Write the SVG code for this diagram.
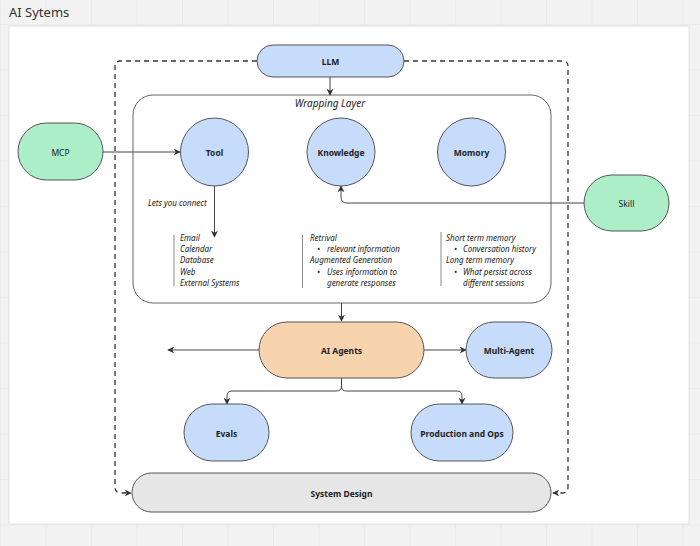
<svg xmlns="http://www.w3.org/2000/svg" width="700" height="546" viewBox="0 0 700 546">
<defs>
<pattern id="grid" x="0" y="24" width="45.5" height="45.5" patternUnits="userSpaceOnUse">
<rect width="45.5" height="45.5" fill="#f2f2f2"/>
<path d="M0,0 H45.5 M0,0 V45.5" stroke="#e4e4e4" stroke-width="1" fill="none"/>
</pattern>
<marker id="arr" viewBox="0 0 10 10" refX="9" refY="5" markerWidth="7" markerHeight="7" orient="auto" markerUnits="userSpaceOnUse">
<path d="M0,0 L10,5 L0,10 L3,5 Z" fill="#333"/>
</marker>
</defs>
<style>
.node{stroke:#555;stroke-width:1}
.blue{fill:#c7dcfb}
.green{fill:#abeec8}
.peach{fill:#f8d4ae}
.grey{fill:#e6e6e6}
.lbl{font-family:"Noto Sans","Open Sans",sans-serif;font-size:8.5px;font-weight:bold;fill:#222;text-anchor:middle;dominant-baseline:central}
.glbl{font-family:"Noto Sans","Open Sans",sans-serif;font-size:8.5px;fill:#222;text-anchor:middle;dominant-baseline:central}
.it{font-family:"Noto Sans","Open Sans",sans-serif;font-size:8px;font-style:italic;fill:#222}
.conn{fill:none;stroke:#444;stroke-width:1}
.dash{fill:none;stroke:#333;stroke-width:1.3;stroke-dasharray:5 4}
.bar{stroke:#888;stroke-width:1}
</style>
<rect width="700" height="546" fill="url(#grid)"/>
<rect x="9" y="26" width="680" height="498" fill="#ffffff" stroke="#e0e0e0"/>
<text x="9" y="17" font-family="'Noto Sans','Open Sans',sans-serif" font-size="13" fill="#333">AI Sytems</text>

<g id="wrapping-layer">
<rect x="133" y="95" width="418" height="208" rx="20" fill="#ffffff" stroke="#666" stroke-width="1"/>
<text x="330" y="107" class="it" font-size="10" text-anchor="middle" style="font-size:10px">Wrapping Layer</text>
</g>

<g id="connectors">
<path class="dash" d="M257,61 H120 Q115,61 115,66 V487 Q115,493 121,493 H131" marker-end="url(#arr)"/>
<path class="dash" d="M404,61 H563 Q568,61 568,66 V487 Q568,493 562,493 H553" marker-end="url(#arr)"/>
<path class="conn" d="M330,77 V95" marker-end="url(#arr)"/>
<path class="conn" d="M103,152 H180" marker-end="url(#arr)"/>
<path class="conn" d="M584,203 H347 Q341,203 341,197 V186" marker-end="url(#arr)"/>
<path class="conn" d="M214.5,186 V237" marker-end="url(#arr)"/>
<path class="conn" d="M341.5,303 V321" marker-end="url(#arr)"/>
<path class="conn" d="M259,350 H168" marker-end="url(#arr)"/>
<path class="conn" d="M424,350 H466" marker-end="url(#arr)"/>
<path class="conn" d="M341.5,378 V386 Q341.5,391 336.5,391 H232 Q227,391 227,396 V404" marker-end="url(#arr)"/>
<path class="conn" d="M341.5,386 Q341.5,391 346.5,391 H457 Q462,391 462,396 V404" marker-end="url(#arr)"/>
</g>

<g id="llm"><rect class="node blue" x="257" y="45" width="147" height="32" rx="16"/><text class="lbl" x="330.5" y="61">LLM</text></g>
<g id="mcp"><rect class="node green" x="18" y="123" width="85" height="57" rx="28.5"/><text class="glbl" x="60.5" y="152">MCP</text></g>
<g id="skill"><rect class="node green" x="584" y="175" width="85" height="56" rx="28"/><text class="glbl" x="626.5" y="203">Skill</text></g>
<g id="tool"><circle class="node blue" cx="214.5" cy="152" r="34"/><text class="lbl" x="214.5" y="152">Tool</text></g>
<g id="knowledge"><circle class="node blue" cx="341" cy="152" r="34"/><text class="lbl" x="341" y="152">Knowledge</text></g>
<g id="memory"><circle class="node blue" cx="471.5" cy="152" r="34"/><text class="lbl" x="471.5" y="152">Momory</text></g>

<g id="tool-notes">
<text class="it" x="148" y="206">Lets you connect</text>
<line class="bar" x1="174" y1="235" x2="174" y2="286"/>
<text class="it" x="180" y="240.5">Email</text>
<text class="it" x="180" y="252">Calendar</text>
<text class="it" x="180" y="263">Database</text>
<text class="it" x="180" y="274.5">Web</text>
<text class="it" x="180" y="285.5">External Systems</text>
</g>
<g id="knowledge-notes">
<line class="bar" x1="302.5" y1="235" x2="302.5" y2="288"/>
<text class="it" x="310" y="240.5">Retrival</text>
<text class="it" x="317" y="252">•</text><text class="it" x="327" y="252">relevant information</text>
<text class="it" x="310" y="263">Augmented Generation</text>
<text class="it" x="317" y="274.5">•</text><text class="it" x="327" y="274.5">Uses information to</text>
<text class="it" x="327" y="285.5">generate responses</text>
</g>
<g id="memory-notes">
<line class="bar" x1="441" y1="232" x2="441" y2="286"/>
<text class="it" x="446" y="240.5">Short term memory</text>
<text class="it" x="454" y="252">•</text><text class="it" x="463" y="252">Conversation history</text>
<text class="it" x="446" y="263">Long term memory</text>
<text class="it" x="454" y="274.5">•</text><text class="it" x="463" y="274.5">What persist across</text>
<text class="it" x="463" y="285.5">different sessions</text>
</g>

<g id="ai-agents"><rect class="node peach" x="259" y="322" width="165" height="56" rx="28"/><text class="lbl" x="341.5" y="350">AI Agents</text></g>
<g id="multi-agent"><rect class="node blue" x="466" y="322" width="86" height="56" rx="28"/><text class="lbl" x="509" y="350">Multi-Agent</text></g>
<g id="evals"><rect class="node blue" x="184" y="404" width="85" height="57" rx="28.5"/><text class="lbl" x="226.5" y="433">Evals</text></g>
<g id="production"><rect class="node blue" x="411" y="404" width="102" height="57" rx="28.5"/><text class="lbl" x="462" y="433">Production and Ops</text></g>
<g id="system-design"><rect class="node grey" x="132" y="473" width="419" height="39" rx="19.5"/><text class="lbl" x="341.5" y="493">System Design</text></g>
</svg>
